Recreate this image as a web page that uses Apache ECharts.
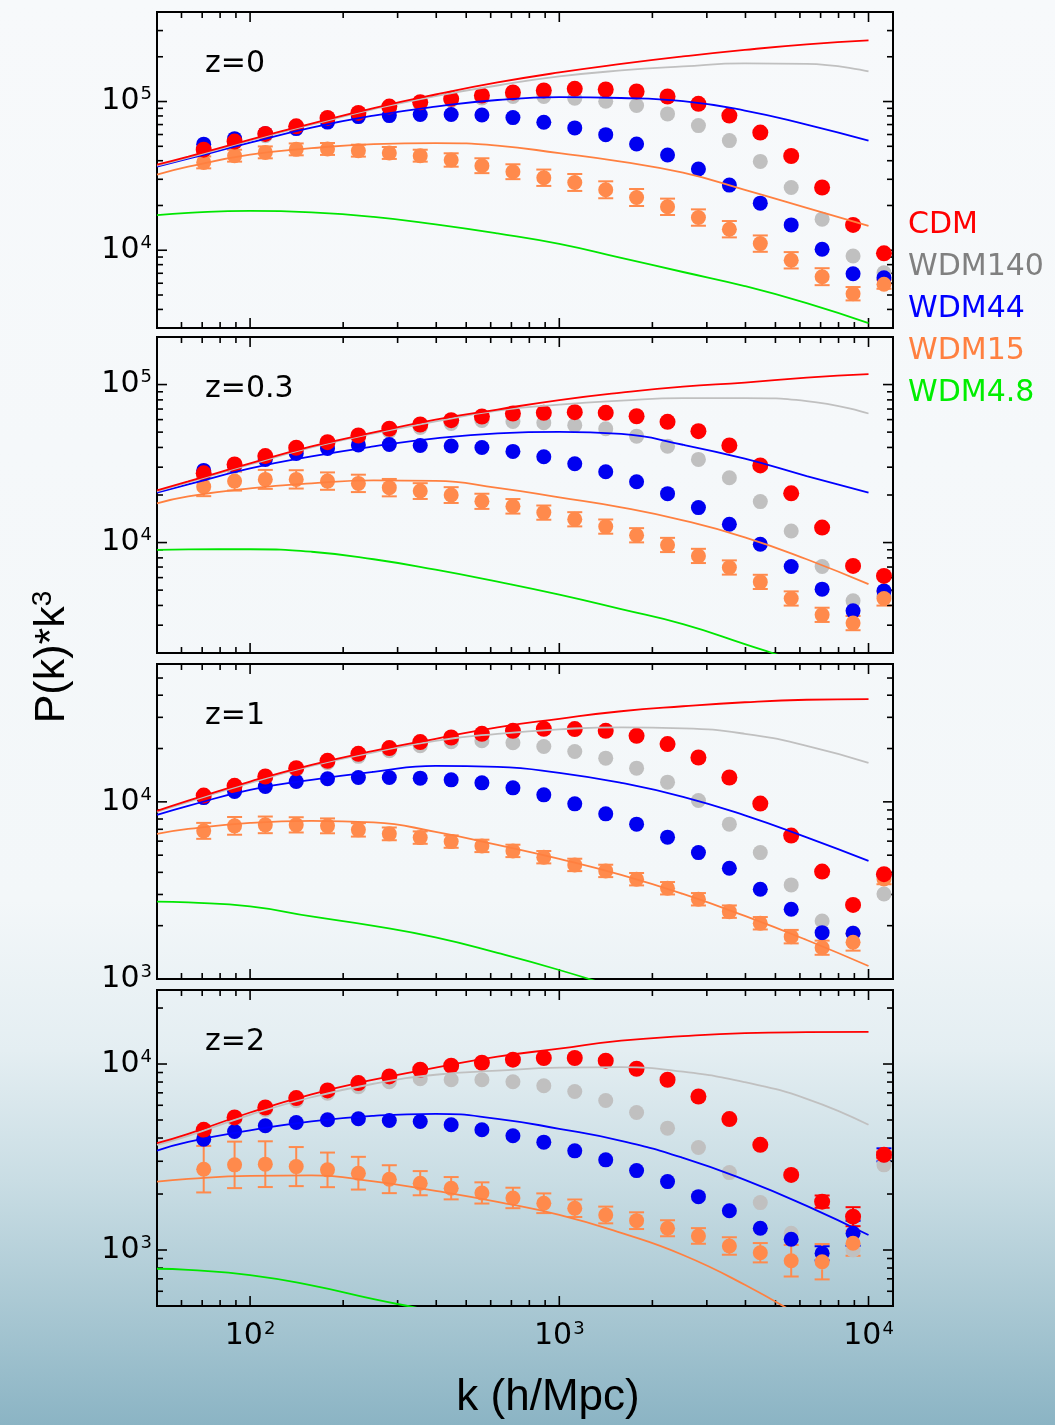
<!DOCTYPE html>
<html>
<head>
<meta charset="utf-8">
<script src="https://cdn.jsdelivr.net/npm/echarts@6/dist/echarts.min.js"></script>
<style>
html, body { margin: 0; padding: 0; }
body {
  width: 1055px; height: 1425px;
  background: linear-gradient(to bottom, #f7f9fb 0px, #f3f7f9 900px, #e4eef2 1050px, #c9dde4 1180px, #abc9d4 1300px, #8bb4c4 1425px);
}
#chart { width: 1055px; height: 1425px; }
</style>
</head>
<body>
<div id="chart"></div>
<script>
// wavenumbers of the measured points and of the model curves
var kPts = [70.8, 89.1, 112, 141, 178, 224, 282, 355, 447, 562, 708, 891, 1122, 1413, 1778, 2239, 2818, 3548, 4467, 5623, 7079, 8913, 11220];
var kLine = [50, 63.1, 100, 158, 251, 398, 631, 1000, 1585, 2512, 3981, 6310, 10000];

var names = ['CDM', 'WDM140', 'WDM44', 'WDM15', 'WDM4.8'];
var zLabels = ['z=0', 'z=0.3', 'z=1', 'z=2'];

// z = 0
var cdmLine_z0 = [37600, 42600, 55400, 71100, 90400, 111500, 134300, 156900, 179000, 201000, 222500, 242300, 257800];
var wdm140Line_z0 = [37000, 41900, 54600, 70000, 89000, 108900, 128200, 147400, 161800, 172200, 180400, 179000, 159400];
var wdm44Line_z0 = [36450, 41270, 52900, 66800, 80400, 92500, 102400, 106900, 105600, 100500, 87000, 70000, 54600];
var wdm15Line_z0 = [32200, 36450, 43900, 48600, 51700, 52500, 50500, 44950, 39400, 33200, 25500, 19300, 14580];
var wdm48Line_z0 = [17220, 17840, 18410, 17990, 16770, 14930, 12980, 11030, 8870, 7140, 5740, 4410, 3235];
var cdmPts_z0 = [47450, 53760, 60560, 68150, 77620, 83890, 92530, 98900, 104300, 109800, 115000, 118600, 121800, 120500, 116800, 108100, 96500, 80400, 61800, 43040, 26430, 14810, 9540];
var wdm140Pts_z0 = [46720, 52900, 58980, 66800, 75640, 81700, 89700, 95450, 101600, 105600, 108100, 108100, 105300, 100500, 93980, 82600, 68900, 54600, 39570, 26430, 16180, 9150, 7060];
var wdm44Pts_z0 = [51700, 56300, 60840, 65750, 72740, 79220, 80420, 81720, 81720, 81100, 78000, 72500, 66460, 59900, 51850, 43710, 35170, 27430, 20740, 14810, 10150, 6955, 6535];
var wdm15Pts_z0 = [38970, 43240, 45510, 47680, 47980, 46720, 45090, 43240, 40450, 37020, 33730, 30730, 28560, 25500, 22630, 19590, 16590, 13850, 11080, 8560, 6640, 5100, 5900];
var wdm15Err_z0 = [0.04, 0.04, 0.04, 0.04, 0.04, 0.04, 0.04, 0.04, 0.045, 0.05, 0.05, 0.055, 0.057, 0.057, 0.057, 0.055, 0.055, 0.055, 0.055, 0.055, 0.057, 0.045, 0.03];

// z = 0.3
var cdmLine_z03 = [21400, 24390, 31690, 40580, 49740, 60080, 69510, 79800, 89000, 97100, 102950, 110700, 116500];
var wdm140Line_z03 = [21090, 24040, 31240, 39990, 49030, 58390, 68510, 74730, 79220, 82160, 82160, 78650, 65580];
var wdm44Line_z03 = [20700, 23350, 29460, 35090, 40580, 45600, 49030, 50110, 48670, 41600, 33930, 26350, 20700];
var wdm15Line_z03 = [17710, 19610, 22030, 23690, 24740, 24560, 22190, 19330, 16710, 13830, 10800, 7842, 5452];
var wdm48Line_z03 = [8980, 9045, 9072, 8748, 7842, 6733, 5653, 4680, 3790, 3047, 2278, 1679, 1184];
var cdmPts_z03 = [27410, 31240, 35250, 39820, 43200, 47620, 52500, 55890, 59480, 62780, 65580, 66250, 66830, 66250, 63040, 58120, 50700, 41180, 30790, 20490, 12440, 7115, 6150];
var wdm140Pts_z03 = [26620, 30340, 34080, 38290, 41780, 45600, 50480, 53510, 56700, 59250, 58390, 57290, 55330, 52500, 47140, 40750, 33590, 25740, 18160, 11840, 7055, 4277, 4600];
var wdm44Pts_z03 = [28630, 30790, 33590, 36650, 39420, 41480, 41780, 41180, 40880, 39990, 37740, 34940, 31560, 28090, 24280, 20400, 16640, 13050, 9750, 7055, 5070, 3697, 4945];
var wdm15Pts_z03 = [22580, 24490, 25110, 25110, 24490, 23690, 22260, 21180, 19980, 18240, 16960, 15470, 14040, 12620, 11120, 9656, 8230, 6953, 5637, 4427, 3488, 3092, 4427];
var wdm15Err_z03 = [0.06, 0.06, 0.06, 0.058, 0.055, 0.055, 0.055, 0.05, 0.05, 0.048, 0.046, 0.045, 0.045, 0.045, 0.045, 0.045, 0.045, 0.045, 0.045, 0.045, 0.045, 0.045, 0.045];

// z = 1
var cdmLine_z1 = [8896, 10170, 13020, 16180, 19420, 22700, 26360, 29440, 32460, 34640, 36490, 37700, 38040];
var wdm140Line_z1 = [8780, 10000, 12800, 15970, 19040, 22110, 24220, 25680, 26360, 26020, 24220, 20730, 16610];
var wdm44Line_z1 = [8443, 9493, 11690, 13310, 14770, 15970, 15760, 14580, 12800, 10670, 8388, 6301, 4642];
var wdm15Line_z1 = [6596, 7036, 7609, 7813, 7659, 6768, 5715, 4764, 3870, 3021, 2270, 1660, 1184];
var wdm48Line_z1 = [2733, 2705, 2568, 2254, 1993, 1716, 1403, 1124, 878, 686, 536, 418, 327];
var cdmPts_z1 = [10850, 12310, 13900, 15500, 17050, 18670, 20110, 21740, 23080, 24220, 25180, 25840, 25740, 25180, 23600, 21180, 17790, 13720, 9780, 6450, 4040, 2619, 3905];
var wdm140Pts_z1 = [10670, 12070, 13570, 15160, 16610, 18070, 19420, 20730, 21830, 22110, 21540, 20540, 19240, 17650, 15500, 12920, 10170, 7482, 5171, 3397, 2127, 1819, 3021];
var wdm44Pts_z1 = [10570, 11430, 12200, 13020, 13490, 13720, 13720, 13610, 13310, 12800, 12000, 10950, 9743, 8556, 7482, 6318, 5171, 4220, 3211, 2476, 1826, 1812, 3870];
var wdm15Pts_z1 = [6858, 7319, 7415, 7415, 7319, 6948, 6596, 6284, 5966, 5642, 5286, 4871, 4405, 4075, 3659, 3253, 2819, 2400, 2064, 1734, 1502, 1611, 3673];
var wdm15Err_z1 = [0.045, 0.05, 0.047, 0.043, 0.042, 0.038, 0.036, 0.035, 0.035, 0.035, 0.035, 0.035, 0.035, 0.035, 0.035, 0.035, 0.035, 0.035, 0.035, 0.038, 0.04, 0.047, 0.03];

// z = 2
var cdmLine_z2 = [3754, 4213, 5487, 6877, 8232, 9552, 10950, 12090, 13350, 14110, 14650, 14830, 14870];
var wdm140Line_z2 = [3675, 4111, 5333, 6627, 7833, 8757, 9203, 9552, 9612, 9090, 7980, 6503, 4712];
var wdm44Line_z2 = [3425, 3816, 4400, 4920, 5267, 5400, 5074, 4483, 3864, 3129, 2382, 1726, 1204];
var wdm15Line_z2 = [2332, 2411, 2502, 2518, 2338, 2078, 1814, 1543, 1235, 940, 650, 420, 256];
var wdm48Line_z2 = [793, 782, 733, 645, 544, 464, 380, 308, 240, 180, 130, 95, 70];
var cdmPts_z2 = [4428, 5160, 5839, 6560, 7210, 7900, 8574, 9318, 9790, 10160, 10550, 10770, 10770, 10420, 9434, 8232, 6690, 5055, 3675, 2534, 1820, 1511, 3248];
var wdm140Pts_z2 = [4320, 5012, 5674, 6344, 6964, 7545, 8028, 8335, 8232, 8232, 8028, 7640, 7120, 6368, 5487, 4520, 3556, 2607, 1798, 1230, 862, 1000, 2869];
var wdm44Pts_z2 = [3946, 4335, 4654, 4849, 5012, 5074, 4968, 4906, 4712, 4428, 4111, 3802, 3412, 3053, 2673, 2332, 1936, 1627, 1309, 1142, 960, 1230, 3248];
var wdm15Pts_z2 = [2720, 2869, 2894, 2809, 2697, 2588, 2403, 2287, 2149, 2027, 1905, 1784, 1677, 1543, 1438, 1309, 1190, 1051, 967, 876, 865, 1087, 3248];
var wdm15Err_z2 = [0.125, 0.125, 0.123, 0.105, 0.093, 0.088, 0.075, 0.065, 0.06, 0.057, 0.055, 0.053, 0.047, 0.045, 0.045, 0.043, 0.042, 0.047, 0.052, 0.085, 0.095, 0.067, 0.02];
var cdmErr_z2 = [0, 0, 0, 0, 0, 0, 0, 0, 0, 0, 0, 0, 0, 0, 0, 0, 0, 0, 0, 0, 0.033, 0.051, 0.015];
var wdm44Err_z2 = [0, 0, 0, 0, 0, 0, 0, 0, 0, 0, 0, 0, 0, 0, 0, 0, 0, 0, 0, 0, 0.038, 0.067, 0.035];

// axis ranges and tick positions
var yMin = [3000, 2000, 1000, 500];
var yMax = [400000, 200000, 60000, 25000];
var xMin = 50, xMax = 12000;
var xMajorTicks = [100, 1000, 10000];
var xMinorTicks = [60, 70, 80, 90, 200, 300, 400, 500, 600, 700, 800, 900, 2000, 3000, 4000, 5000, 6000, 7000, 8000, 9000];

var panels = [
  { lines: [cdmLine_z0, wdm140Line_z0, wdm44Line_z0, wdm15Line_z0, wdm48Line_z0],
    pts: [cdmPts_z0, wdm140Pts_z0, wdm44Pts_z0, wdm15Pts_z0],
    errs: [null, null, null, wdm15Err_z0] },
  { lines: [cdmLine_z03, wdm140Line_z03, wdm44Line_z03, wdm15Line_z03, wdm48Line_z03],
    pts: [cdmPts_z03, wdm140Pts_z03, wdm44Pts_z03, wdm15Pts_z03],
    errs: [null, null, null, wdm15Err_z03] },
  { lines: [cdmLine_z1, wdm140Line_z1, wdm44Line_z1, wdm15Line_z1, wdm48Line_z1],
    pts: [cdmPts_z1, wdm140Pts_z1, wdm44Pts_z1, wdm15Pts_z1],
    errs: [null, null, null, wdm15Err_z1] },
  { lines: [cdmLine_z2, wdm140Line_z2, wdm44Line_z2, wdm15Line_z2, wdm48Line_z2],
    pts: [cdmPts_z2, wdm140Pts_z2, wdm44Pts_z2, wdm15Pts_z2],
    errs: [cdmErr_z2, null, wdm44Err_z2, wdm15Err_z2] }
];

// layout / style
var gridTops = [12, 337, 664, 990];
var gridHeights = [316, 316, 315, 316];
var lineColors = ['#ff0000', '#c0c0c0', '#0000ff', '#ff8040', '#00e600'];
var dotColors = ['#ff0000', '#c0c0c0', '#0000f0', '#ff8a4c'];
var textColors = ['#ff0000', '#808080', '#0000ff', '#ff8040', '#00ee00'];
var LABEL_FONT = '"DejaVu Sans", sans-serif';
var TITLE_FONT = '"Liberation Sans", Arial, sans-serif';

var chart = echarts.init(document.getElementById('chart'));

function powLabel(v) {
  var e = Math.round(Math.log10(v));
  if (Math.abs(v / Math.pow(10, e) - 1) > 1e-6) return '';
  return '{b|10}{s|' + e + '}';
}
var labelRich = {
  b: { fontFamily: LABEL_FONT, fontSize: 30, color: '#000', lineHeight: 32 },
  s: { fontFamily: LABEL_FONT, fontSize: 18, color: '#000', lineHeight: 16, verticalAlign: 'top', padding: [0, 0, 0, 1] }
};

function renderTick(params, api) {
  var kind = api.value(2);
  var cs = params.coordSys;
  var p = api.coord([api.value(0), api.value(1)]);
  var len = (kind === 0 || kind === 2) ? 10 : 6;
  var st = { stroke: '#000', lineWidth: 1.6 };
  var a, b;
  if (kind < 2) {
    a = { x1: p[0], y1: cs.y + cs.height, x2: p[0], y2: cs.y + cs.height - len };
    b = { x1: p[0], y1: cs.y, x2: p[0], y2: cs.y + len };
  } else {
    a = { x1: cs.x, y1: p[1], x2: cs.x + len, y2: p[1] };
    b = { x1: cs.x + cs.width, y1: p[1], x2: cs.x + cs.width - len, y2: p[1] };
  }
  return { type: 'group', children: [
    { type: 'line', shape: a, style: st },
    { type: 'line', shape: b, style: st }
  ] };
}

function errRenderer(color) {
  return function (params, api) {
    var a = api.coord([api.value(0), api.value(1)]);
    var b = api.coord([api.value(0), api.value(2)]);
    var w = 7.5;
    var st = { stroke: color, lineWidth: 2 };
    return { type: 'group', children: [
      { type: 'line', shape: { x1: a[0], y1: a[1], x2: b[0], y2: b[1] }, style: st },
      { type: 'line', shape: { x1: a[0] - w, y1: a[1], x2: a[0] + w, y2: a[1] }, style: st },
      { type: 'line', shape: { x1: b[0] - w, y1: b[1], x2: b[0] + w, y2: b[1] }, style: st }
    ] };
  };
}

var grids = [], xAxes = [], yAxes = [], series = [], graphics = [];

panels.forEach(function (p, i) {
  grids.push({ left: 157, top: gridTops[i], width: 736, height: gridHeights[i], show: true,
    borderColor: '#000', borderWidth: 2, backgroundColor: 'transparent' });
  xAxes.push({ type: 'log', gridIndex: i, min: xMin, max: xMax, logBase: 10,
    axisLine: { show: false }, axisTick: { show: false }, splitLine: { show: false },
    axisLabel: { show: i === 3, margin: 14, formatter: powLabel, rich: labelRich } });
  yAxes.push({ type: 'log', gridIndex: i, min: yMin[i], max: yMax[i], logBase: 10,
    axisLine: { show: false }, axisTick: { show: false }, splitLine: { show: false },
    axisLabel: { margin: 5, formatter: powLabel, rich: labelRich } });

  // model curves, green at the bottom, red on top
  [4, 3, 2, 1, 0].forEach(function (s) {
    series.push({
      name: names[s], type: 'line', xAxisIndex: i, yAxisIndex: i,
      data: kLine.map(function (k, j) { return [k, p.lines[s][j]]; }),
      showSymbol: false, smooth: 0.5, silent: true,
      lineStyle: { color: lineColors[s], width: 1.8 }, itemStyle: { color: lineColors[s] }
    });
  });

  // simulation points: grey, blue, orange, red
  [1, 2, 3, 0].forEach(function (s) {
    var vals = p.pts[s], err = p.errs[s];
    if (err) {
      var ed = [];
      kPts.forEach(function (k, j) {
        if (err[j] > 0) ed.push([k, vals[j] / Math.pow(10, err[j]), vals[j] * Math.pow(10, err[j])]);
      });
      series.push({
        name: names[s], type: 'custom', xAxisIndex: i, yAxisIndex: i, silent: true,
        encode: { x: 0, y: [1, 2] }, data: ed, renderItem: errRenderer(dotColors[s])
      });
    }
    series.push({
      name: names[s], type: 'scatter', xAxisIndex: i, yAxisIndex: i, silent: true,
      data: kPts.map(function (k, j) { return [k, vals[j]]; }),
      symbol: 'circle', symbolSize: s === 0 ? 16 : 15,
      itemStyle: { color: dotColors[s], opacity: 1 }
    });
  });

  // tick marks on all four sides
  var td = [];
  xMajorTicks.forEach(function (k) { td.push([k, yMin[i], 0]); });
  xMinorTicks.forEach(function (k) { td.push([k, yMin[i], 1]); });
  for (var e = Math.floor(Math.log10(yMin[i])); e <= Math.ceil(Math.log10(yMax[i])); e++) {
    for (var m = 1; m <= 9; m++) {
      var v = m * Math.pow(10, e);
      if (v > yMin[i] * 1.0001 && v < yMax[i] * 0.9999) td.push([xMin, v, m === 1 ? 2 : 3]);
    }
  }
  series.push({ name: 'ticks', type: 'custom', xAxisIndex: i, yAxisIndex: i, silent: true,
    encode: { x: 0, y: 1 }, data: td, renderItem: renderTick, clip: false });

  graphics.push({ type: 'text', left: 205, top: gridTops[i] + 37,
    style: { text: zLabels[i], font: '30px ' + LABEL_FONT, fill: '#000' } });
});

graphics.push({
  type: 'text', x: 52, y: 657, rotation: Math.PI / 2,
  style: { text: '{a|P(k)*k}{s|3}', align: 'center', verticalAlign: 'middle',
    rich: { a: { fontFamily: TITLE_FONT, fontSize: 43, lineHeight: 46, fill: '#000', color: '#000' },
            s: { fontFamily: TITLE_FONT, fontSize: 28, lineHeight: 26, verticalAlign: 'top', color: '#000', fill: '#000' } } }
});
graphics.push({
  type: 'text', x: 548, y: 1398,
  style: { text: 'k (h/Mpc)', font: '44px ' + TITLE_FONT, fill: '#000', align: 'center', verticalAlign: 'middle' }
});

chart.setOption({
  backgroundColor: 'transparent',
  animation: false,
  grid: grids,
  xAxis: xAxes,
  yAxis: yAxes,
  legend: {
    orient: 'vertical', left: 898, top: 199, itemWidth: 0, itemHeight: 0, itemGap: 0,
    icon: 'rect', selectedMode: false,
    textStyle: { fontFamily: LABEL_FONT, fontSize: 30, lineHeight: 42 },
    data: names.map(function (n, i) { return { name: n, textStyle: { color: textColors[i] } }; })
  },
  graphic: graphics,
  series: series
});
</script>
</body>
</html>
